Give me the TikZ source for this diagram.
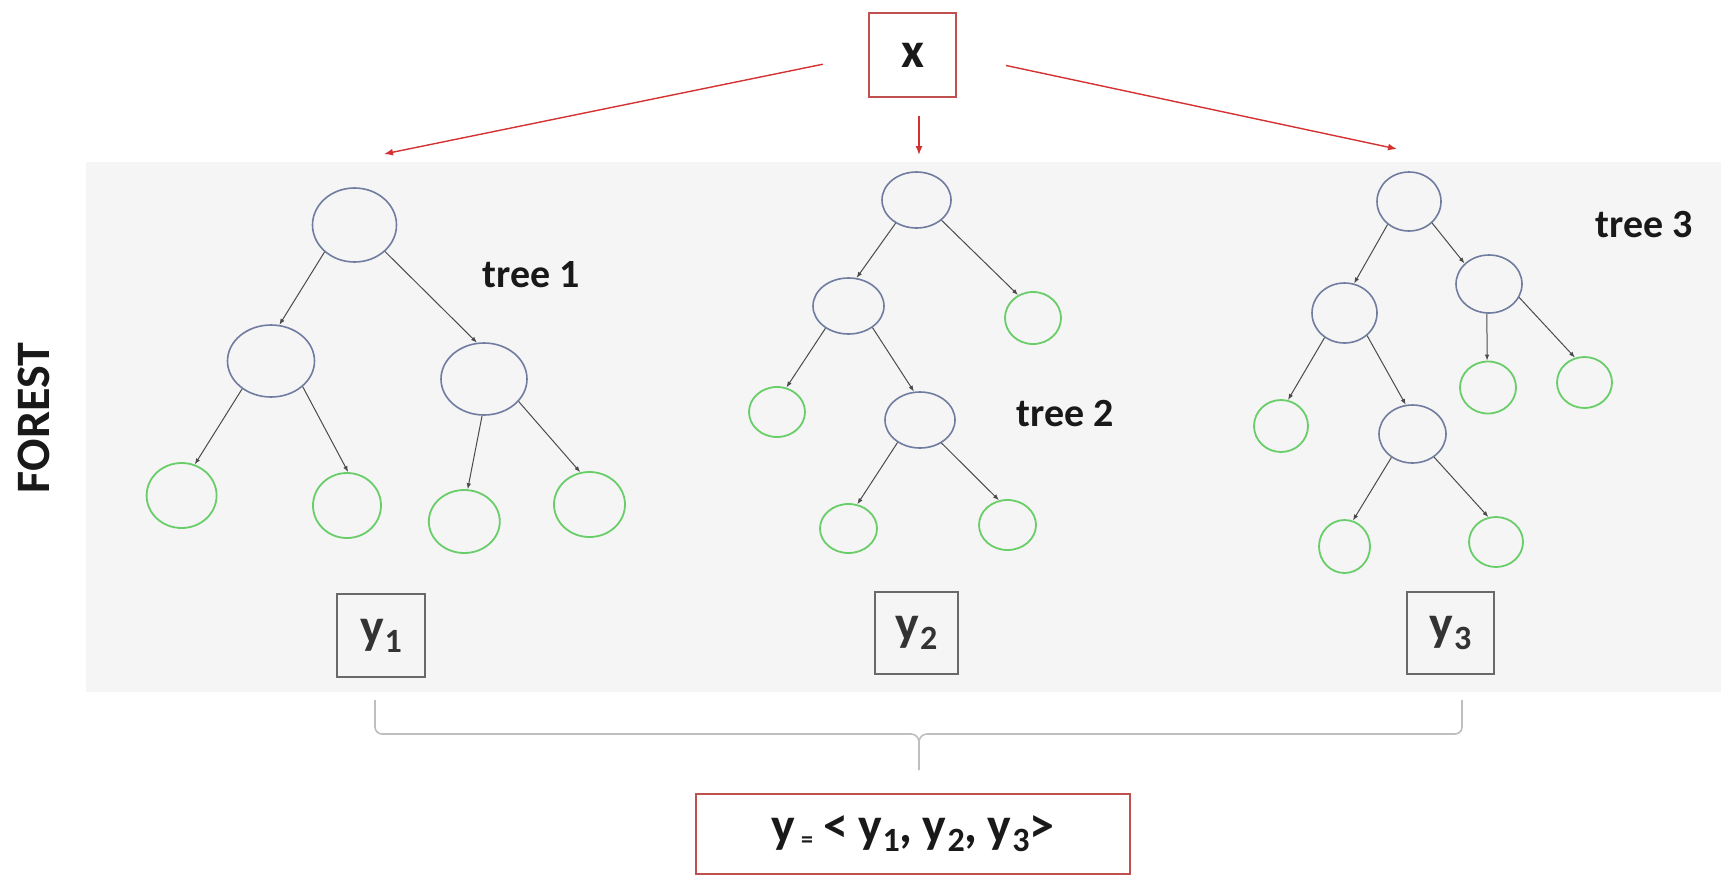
\documentclass[tikz,border=0pt]{standalone}
\usepackage{fontspec}
\setmainfont{Carlito}
\usetikzlibrary{shapes.geometric,arrows.meta}
\definecolor{bgfill}{RGB}{245,245,245}
\definecolor{nodeblue}{RGB}{112,124,160}
\definecolor{leafgreen}{RGB}{105,205,105}
\definecolor{boxred}{RGB}{190,80,80}
\definecolor{arrowred}{RGB}{212,50,50}
\definecolor{edgegray}{RGB}{75,75,75}
\definecolor{ybox}{RGB}{105,105,105}
\definecolor{bracegray}{RGB}{190,190,190}
\definecolor{txt}{RGB}{25,25,25}
\newcommand\subdig[1]{\kern1pt\raisebox{-9pt}{\fontsize{34}{34}\selectfont #1}}
\begin{document}
\begin{tikzpicture}[x=1pt,y=-1pt,
  inode/.style 2 args={ellipse, draw=nodeblue, line width=1.6pt, inner sep=0pt, minimum width=#1, minimum height=#2},
  leafnode/.style 2 args={ellipse, draw=leafgreen, line width=1.8pt, inner sep=0pt, minimum width=#1, minimum height=#2},
  tedge/.style={draw=edgegray, line width=1pt, -{Latex[length=6pt,width=4.5pt]}},
  redarrow/.style={draw=arrowred, line width=1.4pt, -{Latex[length=9pt,width=7pt]}},
  treelabel/.style={font=\fontsize{40}{46}\selectfont\bfseries, text=txt, inner sep=0pt},
  ylabel/.style 2 args={draw=ybox, line width=2pt, minimum width=#1, minimum height=#2, inner sep=0pt, font=\fontsize{50}{56}\selectfont\bfseries, text=black!80},
  redbox/.style 2 args={draw=boxred, line width=2pt, fill=white, minimum width=#1, minimum height=#2, inner sep=0pt, font=\fontsize{50}{56}\selectfont\bfseries, text=txt},
  bracestyle/.style={draw=bracegray, line width=1.6pt}]
\useasboundingbox (0,0) rectangle (1721,876);
\fill[bgfill] (86,162) rectangle (1721,692);

% FOREST label
\node[rotate=90, font=\fontsize{48}{54}\selectfont\bfseries, text=txt, inner sep=0pt] (forest) at (34,418) {FOREST};

% input box
\node[redbox={87}{84}] (X) at (912.5,55) {x};
\coordinate (a1) at (384,154);
\coordinate (a2) at (919,155);
\coordinate (a3) at (1397,149);
\draw[redarrow, shorten <=46pt] (X.west) -- (a1);
\draw[redarrow, shorten <=18pt] (X.south -| a2) -- (a2);
\draw[redarrow, shorten <=50pt] (X.east) -- (a3);

% tree 1
\node[inode={84}{74}] (a) at (354.5,225) {};
\node[inode={87}{72}] (aL) at (271,361) {};
\node[inode={86}{72}] (aR) at (484,379) {};
\node[leafnode={70}{65}] (aLL) at (181.6,495.5) {};
\node[leafnode={68}{65}] (aLR) at (347,505.5) {};
\node[leafnode={71}{63}] (aRL) at (464.3,521.5) {};
\node[leafnode={71}{65}] (aRR) at (589.5,504.5) {};
\draw[tedge] (a.222) -- (aL.77);
\draw[tedge] (a.319) -- (aR.101);
\draw[tedge] (aL.224) -- (aLL.67);
\draw[tedge] (aL.321) -- (aLR.88);
\draw[tedge] (aR.267) -- (aRL.84);
\draw[tedge] (aR.327) -- (aRR.106);
\node[treelabel] (t1) at (531,275) {tree 1};

% tree 2
\node[inode={69}{56}] (b) at (916.5,200) {};
\node[inode={71}{56}] (bL) at (848.5,306) {};
\node[leafnode={56}{52}] (bR) at (1033,318) {};
\node[leafnode={56}{50}] (bLL) at (777,412) {};
\node[inode={70}{56}] (bLR) at (920,420) {};
\node[leafnode={57}{49}] (bLRL) at (848.5,528.5) {};
\node[leafnode={57}{50}] (bLRR) at (1007.5,525) {};
\draw[tedge] (b.228) -- (bL.74);
\draw[tedge] (b.321) -- (bR.123);
\draw[tedge] (bL.224) -- (bLL.69);
\draw[tedge] (bL.318) -- (bLR.102);
\draw[tedge] (bLR.225) -- (bLRL.70);
\draw[tedge] (bLR.313) -- (bLRR.109);
\node[treelabel] (t2) at (1065,414) {tree 2};

% tree 3
\node[inode={64}{59}] (c) at (1409,201.5) {};
\node[inode={65}{60}] (cL) at (1344.5,313) {};
\node[inode={66}{58}] (cR) at (1489,284) {};
\node[leafnode={54}{52}] (cLL) at (1281,426) {};
\node[inode={67}{58}] (cLR) at (1412.5,434) {};
\node[leafnode={51}{53}] (cLRL) at (1344.5,546.5) {};
\node[leafnode={54}{50}] (cLRR) at (1496,542) {};
\node[leafnode={56}{52}] (cRL) at (1488,387.5) {};
\node[leafnode={55}{51}] (cRR) at (1584.5,382.5) {};
\draw[tedge] (c.227) -- (cL.72);
\draw[tedge] (c.317) -- (cR.140);
\draw[tedge] (cL.231) -- (cLL.75);
\draw[tedge] (cL.315) -- (cLR.103);
\draw[tedge] (cR.266) -- (cRL.92);
\draw[tedge] (cR.336) -- (cRR.111);
\draw[tedge] (cLR.228) -- (cLRL.72);
\draw[tedge] (cLR.313) -- (cLRR.107);
\node[treelabel] (t3) at (1644,225) {tree 3};

% outputs
\node[ylabel={88}{83}] (y1) at (381,635.5) {y\subdig{1}};
\node[ylabel={83}{82}] (y2) at (916.5,633) {y\subdig{2}};
\node[ylabel={87}{82}] (y3) at (1450.5,633) {y\subdig{3}};

% brace
\coordinate (bl) at (375,700);
\coordinate (br) at (1462,700);
\coordinate (btip) at (919,770);
\draw[bracestyle] (bl) -- (375,727) to[out=-90,in=180] (382,734) -- (911,734) to[out=0,in=90] (919,742) -- (btip);
\draw[bracestyle] (br) -- (1462,727) to[out=-90,in=0] (1455,734) -- (927,734) to[out=180,in=90] (919,742);

% result
\node[redbox={434}{80}] (res) at (913,834) {y\kern6pt\raisebox{-5pt}{\fontsize{24}{24}\selectfont =}\kern10pt<\kern10pt y\subdig{1},\kern10pt y\subdig{2},\kern10pt y\subdig{3}>};
\end{tikzpicture}
\end{document}
